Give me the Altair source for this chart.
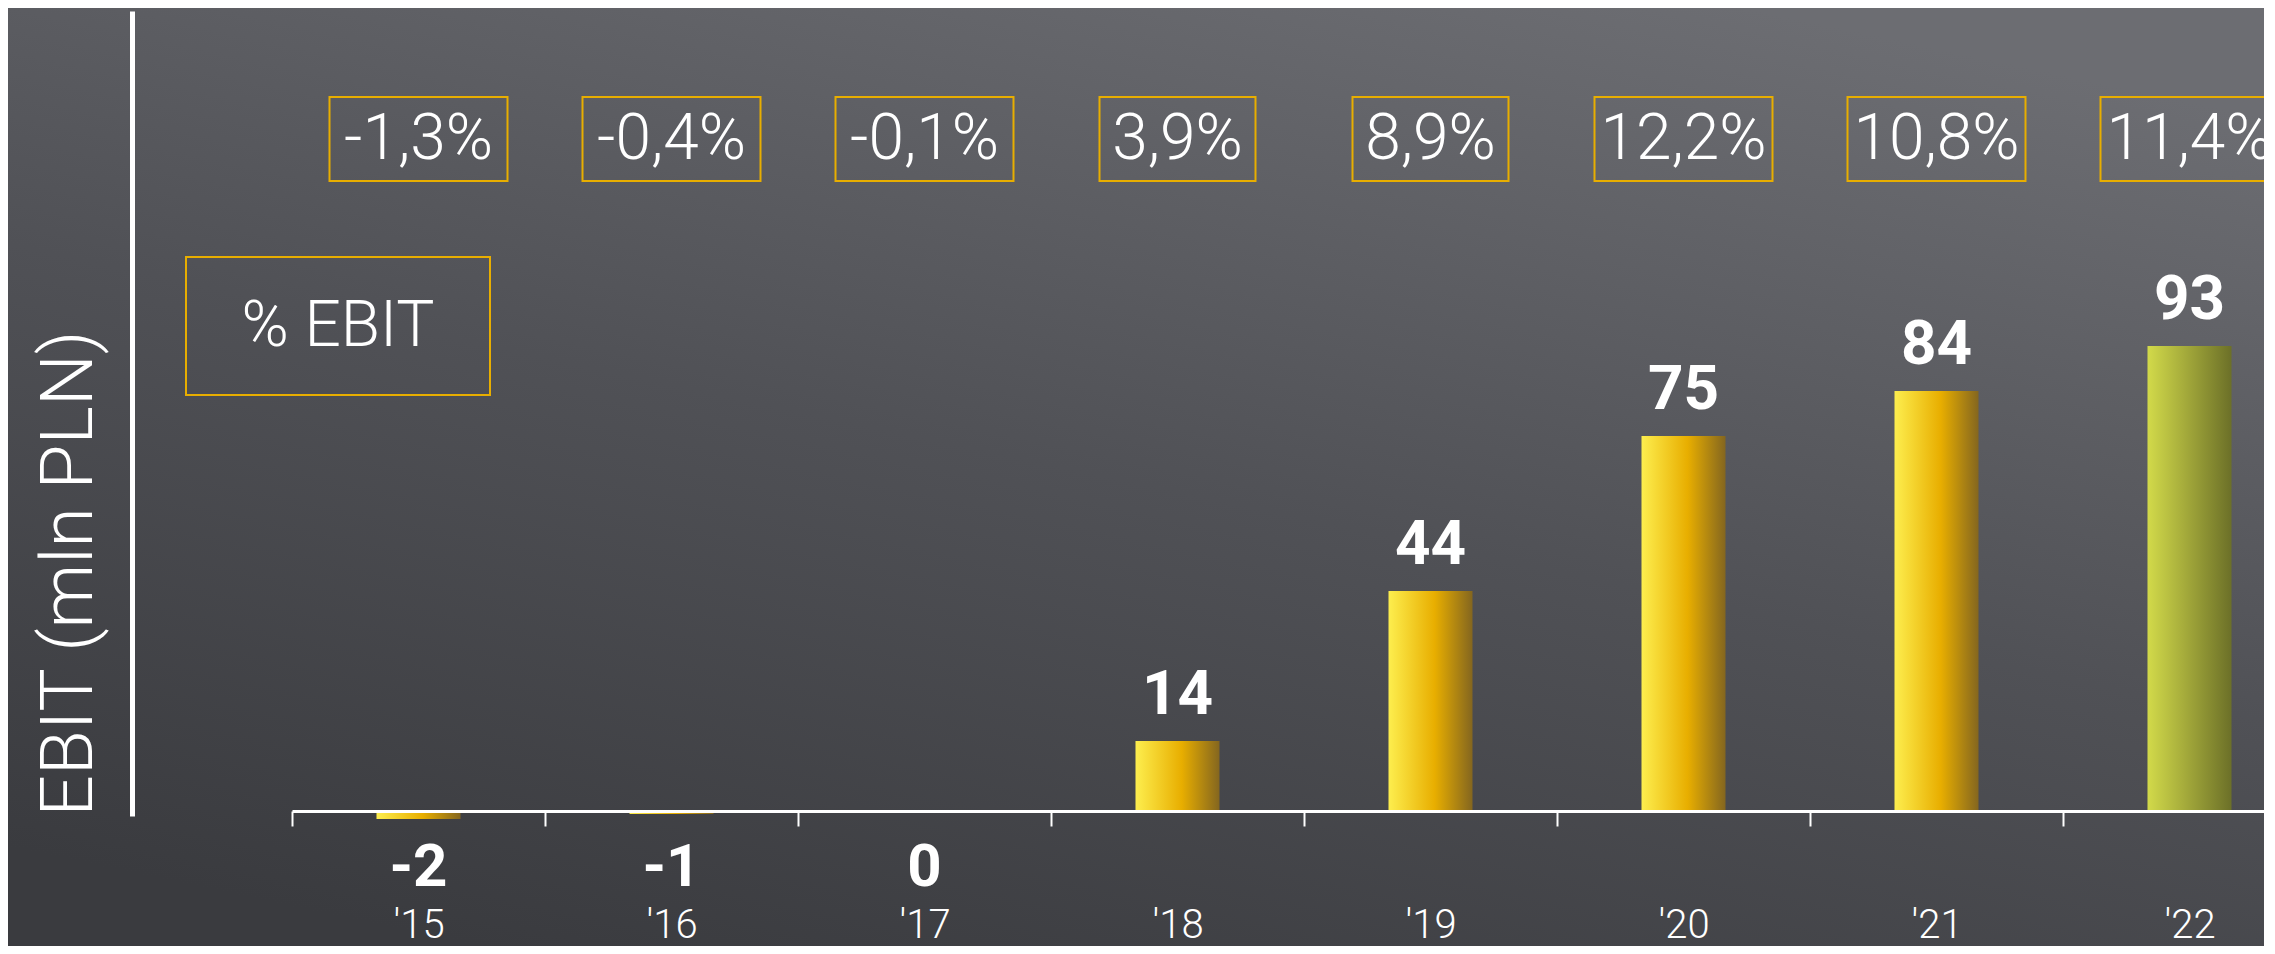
import altair as alt
import pandas as pd

# ---- data ----
years = ["'15", "'16", "'17", "'18", "'19", "'20", "'21", "'22"]
ebit = [-1.6, -0.6, -0.2, 14, 44, 75, 84, 93]
margins = ["-1,3%", "-0,4%", "-0,1%", "3,9%", "8,9%", "12,2%", "10,8%", "11,4%"]
forecast = [False, False, False, False, False, False, False, True]
legend_label = ["% EBIT"]

df = pd.DataFrame({"year": years, "ebit": ebit, "margin": margins, "forecast": forecast})

W, H = 2132, 805
FONT = "Roboto"

grad_gold = {
    "gradient": "linear", "x1": 0, "y1": 0, "x2": 1, "y2": 0,
    "stops": [
        {"offset": 0, "color": "#fdee4e"},
        {"offset": 0.55, "color": "#e8ae00"},
        {"offset": 1, "color": "#84661f"},
    ],
}
grad_olive = {
    "gradient": "linear", "x1": 0, "y1": 0, "x2": 1, "y2": 0,
    "stops": [
        {"offset": 0, "color": "#d2da4a"},
        {"offset": 1, "color": "#6c7028"},
    ],
}
grad_bg = {
    "gradient": "linear", "x1": 0.75, "y1": 0, "x2": 0.25, "y2": 1,
    "stops": [
        {"offset": 0, "color": "#6c6d72"},
        {"offset": 0.5, "color": "#505156"},
        {"offset": 1, "color": "#3a3b3f"},
    ],
}

x_axis = alt.Axis(
    title=None, labelColor="white", labelFont=FONT, labelFontSize=40,
    labelFontWeight=300, labelAngle=0, labelBaseline="middle", labelPadding=99,
    tickBand="extent", tickColor="white", tickWidth=2, tickSize=15,
    domainColor="white", domainWidth=3, grid=False, zindex=1, offset=-5,
)
x_enc = alt.X("year:N", sort=years,
              scale=alt.Scale(range=[160, 2184], paddingInner=0, paddingOuter=0),
              axis=x_axis)
y_axis = alt.Axis(
    title="EBIT (mln PLN)", titleColor="white", titleFont=FONT, titleFontSize=73,
    titleFontWeight=300, titleAnchor="start", titlePadding=26,
    labels=False, ticks=False, grid=False, domainColor="white", domainWidth=5,
    zindex=1,
)
y_scale = alt.Scale(domain=[-1, 160], nice=False, zero=False)

bg = alt.Chart(alt.Data(values=[{"k": 1}])).mark_rect(fill=grad_bg).encode(
    x=alt.value(-130), x2=alt.value(W + 20), y=alt.value(-10), y2=alt.value(H + 150)
)

base = alt.Chart(df)

bars = base.transform_filter("!datum.forecast").mark_bar(width=84, fill=grad_gold).encode(
    x=x_enc, y=alt.Y("ebit:Q", scale=y_scale, axis=y_axis), y2=alt.datum(0)
)
bars_fc = base.transform_filter("datum.forecast").mark_bar(width=84, fill=grad_olive).encode(
    x=x_enc, y=alt.Y("ebit:Q", scale=y_scale, axis=y_axis), y2=alt.datum(0)
)

lab_pos = base.transform_filter("datum.ebit > 0").transform_calculate(
    lab="toString(round(datum.ebit))"
).mark_text(font=FONT, fontSize=62, fontWeight="bold", color="white", baseline="bottom", dy=-14).encode(
    x=x_enc, y=alt.Y("ebit:Q", scale=y_scale), text="lab:N"
)
lab_neg = base.transform_filter("datum.ebit <= 0").transform_calculate(
    lab="toString(round(datum.ebit))"
).mark_text(font=FONT, fontSize=60, fontWeight="bold", color="white", baseline="middle", dy=57).encode(
    x=x_enc, y=alt.datum(0, scale=y_scale), text="lab:N"
)

boxes = base.transform_calculate(bw="length(datum.margin) * 22 + 68").mark_bar(
    fillOpacity=0, stroke="#e8ae00", strokeWidth=2
).encode(
    x=x_enc, y=alt.value(86), y2=alt.value(170), size=alt.Size("bw:Q", scale=None, legend=None)
)
box_text = base.mark_text(font=FONT, fontSize=64, fontWeight=300, color="white", baseline="middle").encode(
    x=x_enc, y=alt.value(129), text="margin:N"
)

leg_data = alt.Data(values=[{"label": t} for t in legend_label])
leg_box = alt.Chart(leg_data).mark_rect(fillOpacity=0, stroke="#e8ae00", strokeWidth=2).encode(
    x=alt.value(54), x2=alt.value(358), y=alt.value(246), y2=alt.value(384)
)
leg_text = alt.Chart(leg_data).mark_text(font=FONT, fontSize=64, fontWeight=300, color="white",
                                         baseline="middle", align="center").encode(
    x=alt.value(206), y=alt.value(316), text="label:N"
)

chart = alt.layer(bg, bars, bars_fc, lab_pos, lab_neg, boxes, box_text, leg_box, leg_text).properties(
    width=W, height=H,
    autosize=alt.AutoSizeParams(type="none"),
    padding={"left": 124, "top": 3, "right": 0, "bottom": 130},
    background="#45464b",
).configure_view(stroke=None)

chart.save("out.html", embed_options={"renderer": "svg", "actions": False})
